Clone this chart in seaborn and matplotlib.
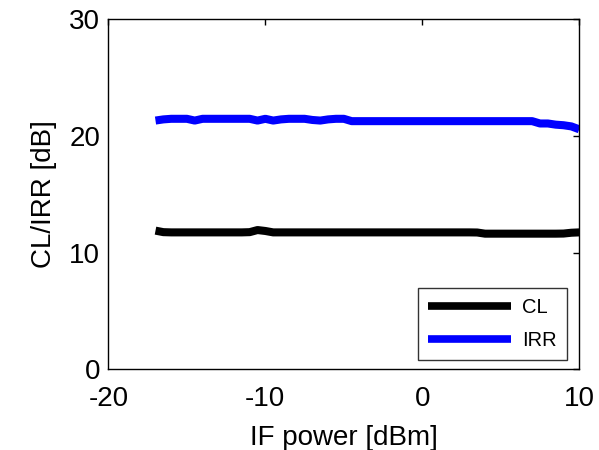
import numpy as np
import pandas as pd
import seaborn as sns
import matplotlib.pyplot as plt

# IF power sweep, 0.5 dB steps from -17 to 10 dBm
if_power = [-17.0, -16.5, -16.0, -15.5, -15.0, -14.5, -14.0, -13.5, -13.0, -12.5,
            -12.0, -11.5, -11.0, -10.5, -10.0, -9.5, -9.0, -8.5, -8.0, -7.5,
            -7.0, -6.5, -6.0, -5.5, -5.0, -4.5, -4.0, -3.5, -3.0, -2.5,
            -2.0, -1.5, -1.0, -0.5, 0.0, 0.5, 1.0, 1.5, 2.0, 2.5,
            3.0, 3.5, 4.0, 4.5, 5.0, 5.5, 6.0, 6.5, 7.0, 7.5,
            8.0, 8.5, 9.0, 9.5, 10.0]

cl = [11.88, 11.75, 11.73, 11.73, 11.73, 11.73, 11.73, 11.73, 11.73, 11.73,
      11.73, 11.73, 11.75, 11.93, 11.85, 11.73, 11.73, 11.73, 11.73, 11.73,
      11.73, 11.73, 11.73, 11.73, 11.73, 11.73, 11.73, 11.73, 11.73, 11.73,
      11.73, 11.73, 11.73, 11.73, 11.73, 11.73, 11.73, 11.73, 11.73, 11.73,
      11.73, 11.72, 11.62, 11.62, 11.62, 11.62, 11.62, 11.62, 11.62, 11.62,
      11.62, 11.62, 11.63, 11.70, 11.73]

irr = [21.30, 21.40, 21.45, 21.45, 21.45, 21.30, 21.45, 21.45, 21.45, 21.45,
       21.45, 21.45, 21.45, 21.30, 21.45, 21.30, 21.40, 21.45, 21.45, 21.45,
       21.35, 21.30, 21.40, 21.45, 21.45, 21.25, 21.25, 21.25, 21.25, 21.25,
       21.25, 21.25, 21.25, 21.25, 21.25, 21.25, 21.25, 21.25, 21.25, 21.25,
       21.25, 21.25, 21.25, 21.25, 21.25, 21.25, 21.25, 21.25, 21.25, 21.05,
       21.05, 20.95, 20.90, 20.80, 20.55]

series = ['CL', 'IRR']
colors = ['black', 'blue']

df = pd.DataFrame({
    'IF power': if_power * 2,
    'value': cl + irr,
    'series': [series[0]] * len(cl) + [series[1]] * len(irr),
})

sns.set_theme(style='white')
plt.rcParams['font.family'] = ['Liberation Sans', 'DejaVu Sans']
plt.rcParams['axes.unicode_minus'] = False
plt.rcParams['text.color'] = 'black'
plt.rcParams['axes.labelcolor'] = 'black'

fig = plt.figure(figsize=(5.99, 4.5), dpi=100)
ax = fig.add_axes([0.181, 0.179, 0.786, 0.779])

sns.lineplot(data=df, x='IF power', y='value', hue='series',
             palette=dict(zip(series, colors)), linewidth=5.8,
             solid_capstyle='butt', ax=ax)

ax.set_xlim(-20, 10)
ax.set_ylim(0, 30)
ax.set_xticks([-20, -10, 0, 10])
ax.set_yticks([0, 10, 20, 30])
ax.set_xlabel('IF power [dBm]', fontsize=20, labelpad=9)
ax.set_ylabel('CL/IRR [dB]', fontsize=20, labelpad=9)
ax.tick_params(direction='in', length=4, width=1, colors='black',
               labelsize=20, top=True, right=True, pad=6)
ax.tick_params(axis='x', pad=12)
for s in ax.spines.values():
    s.set_visible(True)
    s.set_color('black')
    s.set_linewidth(1)

leg = ax.legend(loc='lower right', bbox_to_anchor=(0.974, 0.027),
                fontsize=14.5, frameon=True, fancybox=False,
                edgecolor='black', handlelength=4.1, handletextpad=0.58,
                borderaxespad=0, labelspacing=0.7, borderpad=0.5)
leg.get_frame().set_linewidth(1)
for h in leg.get_lines():
    h.set_solid_capstyle('butt')
    h.set_linewidth(5.5)
for t in leg.get_texts():
    t.set_color('black')

fig.savefig('out.png', dpi=100)
